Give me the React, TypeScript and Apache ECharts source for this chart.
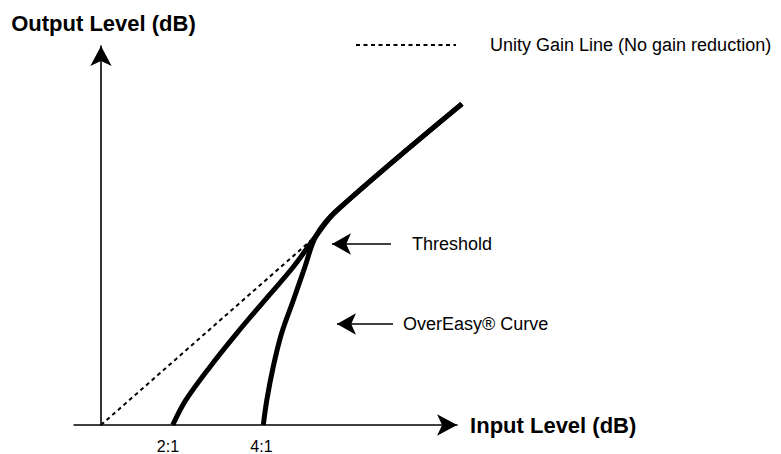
import React, { useEffect, useRef } from "react";
import * as echarts from "echarts";

const FONT = '"Liberation Sans", Arial, Helvetica, sans-serif';

// Scale shared by both grids (px per unit is identical in both)
const xMin = -10;
const xAxisMax = 132.5; // visible axis (arrow tip)
const xDataMax = 140; // drawing area for curves that pass the arrow
const yMin = 0;
const yMax = 160.4;

// Unity gain line (output = input) up to the threshold
const unityName = "Unity Gain Line (No gain reduction)";
const unityX = [0, 80];
const unityY = [0, 80];

// 2:1 ratio curve below threshold
const ratio21X = [26.7, 31.6, 40.6, 50.5, 61.0, 71.6, 80.0];
const ratio21Y = [0, 10.6, 24.7, 38.8, 52.9, 67.0, 80.0];

// 4:1 ratio (OverEasy) curve below threshold
const ratio41X = [60.4, 61.7, 64.1, 67.2, 71.6, 75.9, 80.0];
const ratio41Y = [0, 10.6, 24.7, 38.8, 52.9, 67.0, 80.0];

// Shared segment above threshold
const aboveX = [87.5, 134.3];
const aboveY = [90.5, 135.9];

// Ratio labels under the input axis
const ratioLabels = ["2:1", "4:1"];
const ratioLabelX = [24.9, 59.7];

// Annotation arrows
const annotationNames = ["Threshold", "OverEasy® Curve"];
const annotationTipX = [85.95, 87.8];
const annotationTailX = [107.9, 108.65];
const annotationY = [76.6, 42.75];
const annotationGap = [21, 10];

const pairs = (xs: number[], ys: number[]) => xs.map((x, i) => [x, ys[i]]);

const PX_X = 2.6875;
const GRID_LEFT = 74.125;
const GRID_BOTTOM = 29;
const GRID_TOP = 454 - GRID_BOTTOM - (yMax - yMin) * 2.3625;

export default function App() {
  const ref = useRef<HTMLDivElement>(null);

  useEffect(() => {
    if (!ref.current) return;
    const chart = echarts.init(ref.current, null, { renderer: "svg" });

    const hiddenAxis = {
      type: "value" as const,
      show: false,
      axisTick: { show: false },
      axisLabel: { show: false },
      splitLine: { show: false },
    };
    const axisCommon = {
      type: "value" as const,
      nameLocation: "end" as const,
      axisTick: { show: false },
      axisLabel: { show: false },
      splitLine: { show: false },
    };
    const arrowLine = {
      show: true,
      onZero: true,
      symbol: ["none", "arrow"],
      symbolSize: [16, 20],
      lineStyle: { color: "#000", width: 1.6 },
    };
    const nameStyle = { fontSize: 22, fontWeight: "bold", color: "#000", fontFamily: FONT };

    const curveCommon = {
      type: "line" as const,
      xAxisIndex: 1,
      yAxisIndex: 1,
      smooth: 0.35,
      symbol: "none",
      silent: true,
      lineStyle: { color: "#000", width: 5 },
      itemStyle: { color: "#000" },
      emphasis: { disabled: true },
    };

    const ratioMark = (i: number) => ({
      silent: true,
      symbol: "circle",
      symbolSize: 0,
      itemStyle: { color: "rgba(0,0,0,0)" },
      label: {
        show: true,
        position: "bottom",
        distance: 13,
        formatter: ratioLabels[i],
        fontSize: 16,
        color: "#000",
        fontFamily: FONT,
      },
      emphasis: { disabled: true },
      data: [{ name: ratioLabels[i], coord: [ratioLabelX[i], 0] }],
    });

    const markData = annotationNames.map((name, i) => {
      const label = {
        show: true,
        position: "end",
        distance: annotationGap[i],
        formatter: name,
        fontSize: 18,
        color: "#000",
        fontFamily: FONT,
      };
      return [
        { name, coord: [annotationTipX[i], annotationY[i]], label },
        { coord: [annotationTailX[i], annotationY[i]], label },
      ];
    });

    chart.setOption({
      animation: false,
      backgroundColor: "#fff",
      textStyle: { fontFamily: FONT },
      grid: [
        {
          left: GRID_LEFT,
          right: 781 - GRID_LEFT - (xAxisMax - xMin) * PX_X,
          top: GRID_TOP,
          bottom: GRID_BOTTOM,
          containLabel: false,
        },
        {
          left: GRID_LEFT,
          right: 781 - GRID_LEFT - (xDataMax - xMin) * PX_X,
          top: GRID_TOP,
          bottom: GRID_BOTTOM,
          containLabel: false,
        },
      ],
      legend: {
        data: [unityName],
        left: 355,
        top: 36,
        padding: 0,
        itemWidth: 100,
        itemHeight: 14,
        selectedMode: false,
        itemStyle: { opacity: 0 },
        textStyle: { fontSize: 18, color: "#000", fontFamily: FONT, padding: [0, 0, 0, 29] },
      },
      xAxis: [
        {
          ...axisCommon,
          gridIndex: 0,
          min: xMin,
          max: xAxisMax,
          name: "Input Level (dB)",
          nameGap: 13,
          nameTextStyle: nameStyle,
          axisLine: arrowLine,
        },
        { ...hiddenAxis, gridIndex: 1, min: xMin, max: xDataMax },
      ],
      yAxis: [
        {
          ...axisCommon,
          gridIndex: 0,
          min: yMin,
          max: yMax,
          name: "Output Level (dB)",
          nameGap: 11.6,
          nameTextStyle: { ...nameStyle, padding: [0, 0, 0, 5] },
          axisLine: arrowLine,
        },
        { ...hiddenAxis, gridIndex: 1, min: yMin, max: yMax },
      ],
      series: [
        {
          name: unityName,
          type: "line",
          xAxisIndex: 0,
          yAxisIndex: 0,
          symbol: "none",
          silent: true,
          data: pairs(unityX, unityY),
          lineStyle: { color: "#000", width: 2, type: [4, 3.5] },
          itemStyle: { color: "#000" },
          emphasis: { disabled: true },
          markLine: {
            silent: true,
            symbol: ["arrow", "none"],
            symbolSize: [16, 19],
            precision: 2,
            lineStyle: { color: "#000", width: 1.6, type: "solid" },
            label: { fontSize: 18, color: "#000", fontFamily: FONT },
            emphasis: { disabled: true },
            data: markData,
          },
        },
        {
          ...curveCommon,
          name: "2:1",
          data: pairs(ratio21X.concat(aboveX), ratio21Y.concat(aboveY)),
          markPoint: ratioMark(0),
        },
        {
          ...curveCommon,
          name: "4:1",
          data: pairs(ratio41X.concat(aboveX), ratio41Y.concat(aboveY)),
          markPoint: ratioMark(1),
        },
      ],
    });

    return () => chart.dispose();
  }, []);

  return (
    <div
      ref={ref}
      style={{ position: "fixed", left: 0, top: 0, width: 781, height: 454, background: "#fff" }}
    />
  );
}
